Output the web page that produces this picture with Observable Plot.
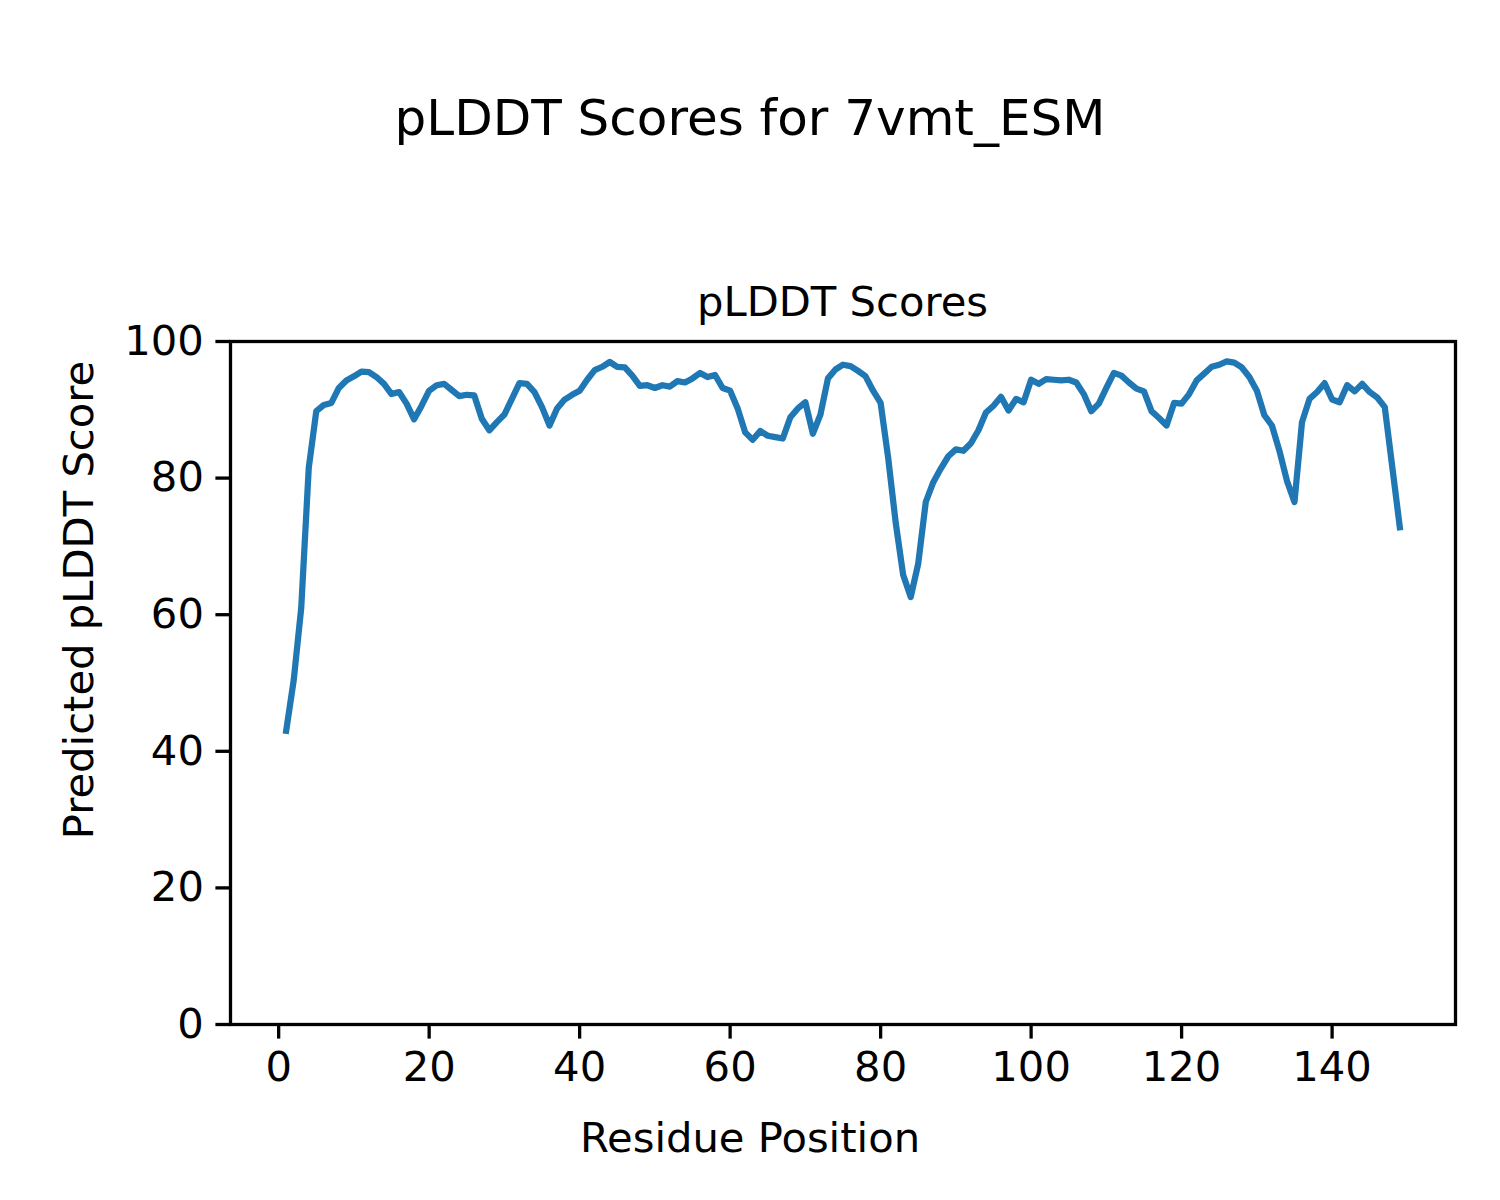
<!DOCTYPE html>
<html>
<head>
<meta charset="utf-8">
<script src="https://cdn.jsdelivr.net/npm/d3@7"></script>
<script src="https://cdn.jsdelivr.net/npm/@observablehq/plot@0.6"></script>
<style>
  html, body { margin: 0; padding: 0; background: #fff; }
  #chart svg { display: block; }
</style>
</head>
<body>
<div id="chart"></div>
<script>
const suptitle = "pLDDT Scores for 7vmt_ESM";
const axesTitle = "pLDDT Scores";
const xLabel = "Residue Position";
const yLabel = "Predicted pLDDT Score";
const xTicks = [0, 20, 40, 60, 80, 100, 120, 140];
const yTicks = [0, 20, 40, 60, 80, 100];

// pLDDT per residue (residue 1 .. 149)
const scores = [
  43.0, 50.4, 61.0, 81.5, 89.8, 90.7, 91.0, 93.2, 94.3, 94.9,
  95.6, 95.5, 94.8, 93.8, 92.3, 92.6, 90.9, 88.6, 90.6, 92.8,
  93.6, 93.8, 92.9, 92.0, 92.2, 92.1, 88.7, 87.0, 88.2, 89.3,
  91.6, 93.9, 93.8, 92.6, 90.4, 87.7, 90.2, 91.5, 92.2, 92.8,
  94.4, 95.8, 96.3, 97.0, 96.3, 96.2, 95.0, 93.5, 93.6, 93.2,
  93.6, 93.4, 94.2, 94.0, 94.6, 95.4, 94.8, 95.1, 93.2, 92.8,
  90.2, 86.7, 85.6, 86.9, 86.2, 86.0, 85.8, 88.9, 90.2, 91.1,
  86.5, 89.3, 94.6, 95.9, 96.6, 96.4, 95.7, 94.9, 92.8, 91.0,
  83.0, 73.5, 65.8, 62.6, 67.5, 76.5, 79.4, 81.4, 83.2, 84.2,
  84.0, 85.1, 87.0, 89.6, 90.6, 91.9, 89.9, 91.6, 91.1, 94.4,
  93.8, 94.5, 94.4, 94.3, 94.4, 94.0, 92.3, 89.8, 90.9, 93.2,
  95.4, 95.0, 94.0, 93.1, 92.7, 89.8, 88.8, 87.7, 91.0, 90.9,
  92.3, 94.3, 95.3, 96.3, 96.6, 97.1, 96.9, 96.2, 94.8, 92.8,
  89.2, 87.7, 84.0, 79.6, 76.5, 88.2, 91.6, 92.6, 93.9, 91.5,
  91.1, 93.6, 92.7, 93.8, 92.6, 91.8, 90.4, 81.6, 72.8
];

const data = scores.map((s, i) => ({pos: i + 1, score: s}));

const font = "'DejaVu Sans', sans-serif";
const W = 1500, H = 1200;

const plot = Plot.plot({
  width: W,
  height: H,
  marginLeft: 230,
  marginRight: 45,
  marginTop: 341,
  marginBottom: 176,
  style: {fontFamily: font, fontSize: "41.7px", color: "#000", background: "#fff", overflow: "visible"},
  x: {domain: [-6.4, 156.4], label: null},
  y: {domain: [0, 100], label: null},
  marks: [
    Plot.lineY(data, {x: "pos", y: "score", stroke: "#1f77b4", strokeWidth: 6.25, strokeLinejoin: "round", strokeLinecap: "square"}),
    Plot.frame({stroke: "#000", strokeWidth: 3.3}),
    Plot.axisX({ticks: xTicks, tickSize: 14.6, tickPadding: 12, strokeWidth: 3.3, fontSize: 41.7, label: null}),
    Plot.axisY({ticks: yTicks, tickSize: 14.6, tickPadding: 12, strokeWidth: 3.3, fontSize: 41.7, label: null})
  ]
});

document.getElementById("chart").appendChild(plot);

const svg = d3.select(plot);
svg.append("text")
  .attr("x", 750).attr("y", 135)
  .attr("text-anchor", "middle")
  .style("font-family", font).style("font-size", "50px").attr("fill", "#000")
  .text(suptitle);
svg.append("text")
  .attr("x", 842.5).attr("y", 316)
  .attr("text-anchor", "middle")
  .style("font-family", font).style("font-size", "41.7px").attr("fill", "#000")
  .text(axesTitle);
svg.append("text")
  .attr("x", 750).attr("y", 1152)
  .attr("text-anchor", "middle")
  .style("font-family", font).style("font-size", "41.7px").attr("fill", "#000")
  .text(xLabel);
svg.append("text")
  .attr("transform", "translate(93,600) rotate(-90)")
  .attr("text-anchor", "middle")
  .style("font-family", font).style("font-size", "41.7px").attr("fill", "#000")
  .text(yLabel);
</script>
</body>
</html>
